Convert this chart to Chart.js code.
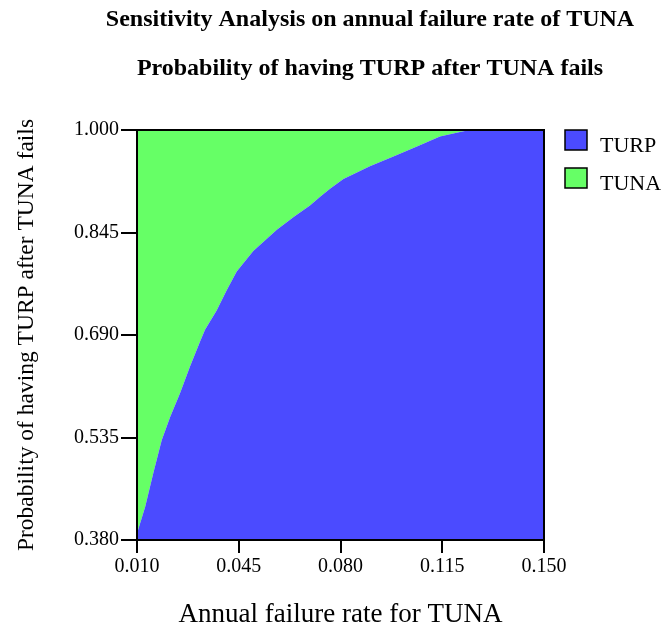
<!DOCTYPE html>
<html>
<head>
<meta charset="utf-8">
<script src="https://cdn.jsdelivr.net/npm/chart.js@4"></script>
<style>
  body { margin: 0; background: #fff; }
  canvas { display: block; }
</style>
</head>
<body>
<canvas id="sensChart" width="670" height="632"></canvas>
<script>
// annual failure rate of TUNA vs. threshold probability of TURP after TUNA fails
const failureRate = [0.010, 0.0128, 0.0156, 0.0185, 0.0214, 0.0248, 0.0282, 0.0317, 0.0334, 0.0374, 0.0409, 0.0443,
  0.0500, 0.0581, 0.0640, 0.0695, 0.0730, 0.0764, 0.0810, 0.0901, 0.0982, 0.1073, 0.1142, 0.1211, 0.1245, 0.1500];
const turpProb = [0.390, 0.430, 0.481, 0.531, 0.566, 0.602, 0.642, 0.680, 0.698, 0.727, 0.758, 0.786,
  0.817, 0.849, 0.869, 0.886, 0.899, 0.911, 0.926, 0.945, 0.960, 0.977, 0.990, 0.997, 1.000, 1.000];
const xTicks = [0.010, 0.045, 0.080, 0.115, 0.150];
const yTicks = [0.380, 0.535, 0.690, 0.845, 1.000];
const titleLines = ['Sensitivity Analysis on annual failure rate of TUNA', 'Probability of having TURP after TUNA fails'];

const serif = '"Liberation Serif", "Times New Roman", serif';
const boundary = failureRate.map((x, i) => ({ x: x, y: turpProb[i] }));

const frame = {
  id: 'frame',
  afterDatasetsDraw(chart) {
    const a = chart.chartArea, ctx = chart.ctx;
    ctx.save();
    ctx.strokeStyle = '#000';
    ctx.lineWidth = 2;
    ctx.strokeRect(a.left, a.top, a.right - a.left, a.bottom - a.top);
    ctx.restore();
  },
  afterDraw(chart) {
    const ctx = chart.ctx;
    ctx.save();
    ctx.fillStyle = '#000';
    ctx.textAlign = 'center';
    ctx.textBaseline = 'middle';
    ctx.font = 'bold 24px ' + serif;
    ctx.fillText(titleLines[0], 370, 20);
    ctx.fillText(titleLines[1], 370, 69);
    // legend
    ctx.font = '22px ' + serif;
    ctx.textAlign = 'left';
    chart.data.datasets.forEach((ds, i) => {
      const y = 130 + i * 38;
      ctx.fillStyle = ds.backgroundColor;
      ctx.fillRect(565, y, 22, 20);
      ctx.strokeStyle = '#000';
      ctx.lineWidth = 1.5;
      ctx.strokeRect(565, y, 22, 20);
      ctx.fillStyle = '#000';
      ctx.fillText(ds.label, 600, y + 16);
    });
    ctx.restore();
  }
};

new Chart(document.getElementById('sensChart'), {
  type: 'line',
  data: {
    datasets: [
      { label: 'TURP', data: boundary, backgroundColor: '#4b4bff', borderWidth: 0, pointRadius: 0, fill: 'start', tension: 0 },
      { label: 'TUNA', data: boundary, backgroundColor: '#66ff66', borderWidth: 0, pointRadius: 0, fill: 'end', tension: 0 }
    ]
  },
  options: {
    responsive: false,
    animation: false,
    layout: { padding: { top: 130, right: 126, bottom: 0, left: 0 } },
    plugins: { legend: { display: false }, title: { display: false }, tooltip: { enabled: false } },
    scales: {
      x: {
        type: 'linear', min: 0.010, max: 0.150,
        afterBuildTicks: s => { s.ticks = xTicks.map(v => ({ value: v })); },
        afterFit: s => { s.height = 92; },
        ticks: { color: '#000', font: { family: serif, size: 20 }, padding: 2, maxRotation: 0, callback: v => v.toFixed(3) },
        grid: { drawOnChartArea: false, drawTicks: true, tickLength: 13, color: '#000', lineWidth: 2 },
        border: { display: true, color: '#000', width: 2 },
        title: { display: true, text: 'Annual failure rate for TUNA', color: '#000', font: { family: serif, size: 27 }, padding: { top: 0, bottom: 1 } }
      },
      y: {
        type: 'linear', min: 0.380, max: 1.000,
        afterBuildTicks: s => { s.ticks = yTicks.map(v => ({ value: v })); },
        afterFit: s => { s.width = 137; },
        ticks: { color: '#000', font: { family: serif, size: 20 }, padding: 2, callback: v => v.toFixed(3) },
        grid: { drawOnChartArea: false, drawTicks: true, tickLength: 16, color: '#000', lineWidth: 2 },
        border: { display: true, color: '#000', width: 2 },
        title: { display: true, text: 'Probability of having TURP after TUNA fails', color: '#000', font: { family: serif, size: 23.5 }, padding: { top: 13, bottom: 0 } }
      }
    }
  },
  plugins: [frame]
});
</script>
</body>
</html>
